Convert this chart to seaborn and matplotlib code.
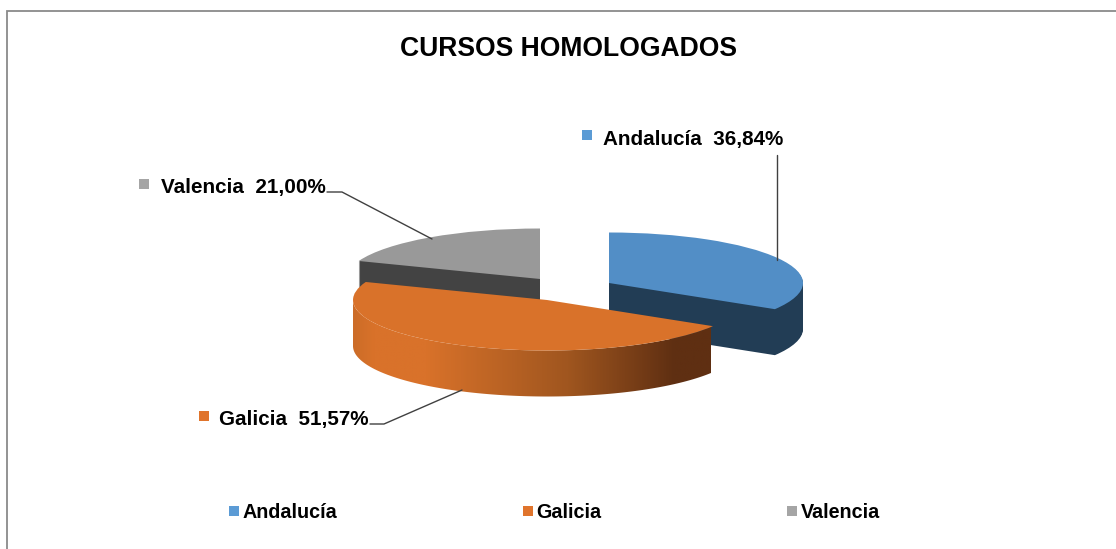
import numpy as np
import matplotlib
matplotlib.use("Agg")
import matplotlib.pyplot as plt
from matplotlib.lines import Line2D
from matplotlib.patches import Polygon
from matplotlib.colors import LinearSegmentedColormap
import seaborn as sns

regions = ["Andalucía", "Galicia", "Valencia"]
percent = [36.84, 51.57, 21.00]
title = "CURSOS HOMOLOGADOS"

top_colors = ["#528EC6", "#D9722A", "#999999"]
wall_colors = ["#223D55", "#D9722A", "#434343"]
legend_colors = ["#5B9BD5", "#E0742C", "#A5A5A5"]

W, H = 1116, 549
RX, RY, DEPTH = 194.0, 50.5, 46
centers = [(609, 283), (547, 300), (540, 279)]

sns.set_theme(style="white")
plt.rcParams["font.family"] = ["Liberation Sans", "DejaVu Sans"]

fig = plt.figure(figsize=(W / 100, H / 100), dpi=100, facecolor="white")
pie_ax = fig.add_axes([0, 0, 1, 1], zorder=1)
ax = fig.add_axes([0, 0, 1, 1], zorder=2)
ax.set_xlim(0, W)
ax.set_ylim(H, 0)
ax.axis("off")
ax.patch.set_alpha(0)


def to_pie(px, py):
    return px / RX, -py / RY


def pie_layer(colors, drop, z):
    wedges, _ = pie_ax.pie(percent, colors=colors, startangle=90, counterclock=False,
                           radius=1, wedgeprops={"linewidth": 0})
    for i, (wedge, (cx, cy)) in enumerate(zip(wedges, centers)):
        wedge.set_center(to_pie(cx, cy + drop))
        wedge.set_zorder(z[i])
    return wedges


# side walls are stacks of pie layers, orange wall gets a gradient below
for drop in range(DEPTH, 0, -1):
    w = pie_layer(wall_colors, drop, [2, 0, 0])
    w[1].remove()
tops = pie_layer(top_colors, 0, [3, 6, 1])

# gradient wall of the Galicia slice
gal = tops[1]
t1, t2 = sorted((gal.theta1, gal.theta2))
while t2 > 0:
    t1, t2 = t1 - 360, t2 - 360
theta = np.radians(np.linspace(max(t1, -180), t2, 200))
cx, cy = to_pie(*centers[1])
dd = DEPTH / RY
upper = np.c_[cx + np.cos(theta), cy + np.sin(theta)]
lower = np.c_[cx + np.cos(theta), cy + np.sin(theta) - dd][::-1]
clip = Polygon(np.r_[upper, lower], closed=True, transform=pie_ax.transData, fill=False, lw=0)
pie_ax.add_patch(clip)
cmap = LinearSegmentedColormap.from_list(
    "wall",
    [(0.0, "#CC6C28"), (0.056, "#D9722A"), (0.20, "#D9722A"),
     (0.60, "#A0561F"), (0.90, "#5F2F12"), (1.0, "#5F2F12")],
)
x0, _ = to_pie(353, 0)
x1, _ = to_pie(711, 0)
_, y0 = to_pie(0, 400)
_, y1 = to_pie(0, 270)
img = pie_ax.imshow(np.linspace(0, 1, 400)[None, :], cmap=cmap, aspect="auto",
                    extent=(x0, x1, y0, y1), zorder=5, interpolation="bilinear")
img.set_clip_path(clip)

pie_ax.set_aspect("auto")
pie_ax.set_xlim(0, W / RX)
pie_ax.set_ylim(-H / RY, 0)
pie_ax.axis("off")

# chart border (top and left only are visible)
ax.plot([6.5, 6.5, W], [H, 10.5, 10.5], color="#8A8A8A", lw=1.3, solid_joinstyle="miter")

ax.text(568, 48.5, title, ha="center", va="center", fontsize=19.1, fontweight="bold", color="black")

# data labels with key square and leader line
label_pos = [(603, 139.5), (219, 419.5), (161, 187.5)]
key_pos = [(586.5, 135), (203.5, 416), (144, 184)]
leaders = [
    ([777, 777], [155, 260]),
    ([370, 384, 462], [424, 424, 390]),
    ([327, 342, 432], [192, 192, 239]),
]
for name, pct, (lx, ly), (kx, ky), col, (xs, ys) in zip(regions, percent, label_pos, key_pos, legend_colors, leaders):
    txt = f"{name}  {pct:.2f}%".replace(".", ",")
    ax.text(lx, ly, txt, ha="left", va="center", fontsize=14.9, fontweight="bold", color="black")
    ax.plot([kx], [ky], marker="s", ms=7.5, color=col, mew=0, ls="none")
    ax.plot(xs, ys, color="#404040", lw=1.0)

handles = [Line2D([], [], marker="s", ms=7.5, color=c, mew=0, ls="none") for c in legend_colors]
leg = ax.legend(handles, regions, loc="center", bbox_to_anchor=(554 / W, 1 - 512.5 / H),
                ncols=3, frameon=False, prop={"size": 14.2, "weight": "bold"},
                handlelength=0.55, handletextpad=0.15, columnspacing=9.4, borderpad=0, borderaxespad=0)
for t in leg.get_texts():
    t.set_color("black")

fig.savefig("out.png", dpi=100, facecolor="white")
